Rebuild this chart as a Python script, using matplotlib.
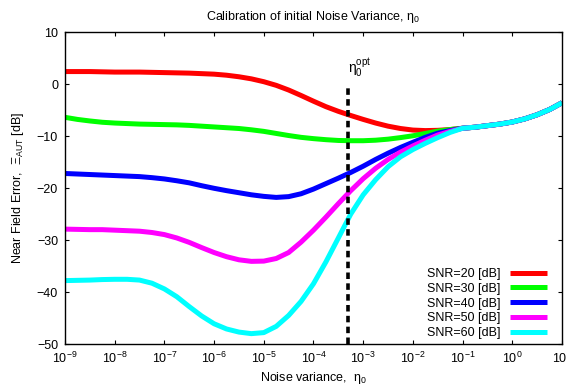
import numpy as np
import matplotlib
matplotlib.use("Agg")
import matplotlib.pyplot as plt

plt.rcParams['font.family'] = ['Liberation Sans', 'DejaVu Sans']
plt.rcParams['mathtext.fontset'] = 'custom'
plt.rcParams['mathtext.rm'] = 'Liberation Sans'
plt.rcParams['mathtext.it'] = 'Liberation Sans'
plt.rcParams['mathtext.default'] = 'regular'

# x positions as log10 of the noise variance
log_eta = [-9, -8.75, -8.5, -8.25, -8, -7.75, -7.5, -7.25, -7, -6.75,
           -6.5, -6.25, -6, -5.75, -5.5, -5.25, -5, -4.75, -4.5, -4.25,
           -4, -3.75, -3.5, -3.25, -3, -2.75, -2.5, -2.25, -2, -1.75,
           -1.5, -1.25, -1, -0.75, -0.5, -0.25, 0, 0.25, 0.5, 0.75, 1]

# common high-variance tail (from 1e-1 to 1e1)
tail = [-8.5, -8.3, -8.0, -7.7, -7.3, -6.7, -5.9, -4.9, -3.6]

snr20 = [2.4, 2.4, 2.4, 2.35, 2.3, 2.3, 2.3, 2.25, 2.2, 2.15,
         2.1, 2.0, 1.9, 1.7, 1.4, 1.0, 0.45, -0.25, -1.15, -2.2,
         -3.3, -4.35, -5.25, -6.05, -6.8, -7.5, -8.1, -8.55, -8.85, -8.95,
         -8.9, -8.75] + tail
snr30 = [-6.4, -6.8, -7.1, -7.35, -7.5, -7.6, -7.7, -7.75, -7.8, -7.85,
         -7.95, -8.1, -8.25, -8.4, -8.55, -8.8, -9.1, -9.5, -9.9, -10.25,
         -10.5, -10.7, -10.85, -10.9, -10.9, -10.8, -10.6, -10.3, -9.95, -9.5,
         -9.05, -8.75] + tail
snr40 = [-17.2, -17.3, -17.4, -17.5, -17.6, -17.7, -17.8, -18.0, -18.25, -18.6,
         -19.0, -19.55, -20.05, -20.5, -20.9, -21.3, -21.6, -21.8, -21.65, -21.1,
         -20.2, -19.15, -18.1, -17.0, -15.8, -14.5, -13.3, -12.2, -11.2, -10.25,
         -9.45, -8.95] + tail
snr50 = [-27.9, -27.95, -28.0, -28.0, -28.1, -28.2, -28.3, -28.55, -28.95, -29.6,
         -30.45, -31.45, -32.4, -33.2, -33.8, -34.1, -34.05, -33.55, -32.4, -30.4,
         -28.1, -25.6, -23.0, -20.5, -18.2, -16.2, -14.5, -13.1, -11.9, -10.8,
         -9.8, -9.1] + tail
snr60 = [-37.8, -37.75, -37.7, -37.6, -37.55, -37.55, -37.7, -38.3, -39.4, -40.9,
         -42.8, -44.6, -46.1, -47.1, -47.7, -48.0, -47.8, -46.6, -44.5, -41.8,
         -38.4, -34.2, -29.6, -25.0, -21.3, -18.4, -15.9, -14.0, -12.6, -11.4,
         -10.3, -9.3] + tail

labels = ['SNR=20 [dB]', 'SNR=30 [dB]', 'SNR=40 [dB]', 'SNR=50 [dB]', 'SNR=60 [dB]']
colors = ['#ff0000', '#00ff00', '#0000ff', '#ff00ff', '#00ffff']
eta_opt = 5e-4

eta = 10.0 ** np.array(log_eta)

fig = plt.figure(figsize=(5.67, 3.87), dpi=100)
ax = fig.add_axes([0.1146, 0.111, 0.8766, 0.8062])

for y, lab, c in zip([snr20, snr30, snr40, snr50, snr60], labels, colors):
    ax.plot(eta, y, color=c, lw=3.6, label=lab, solid_capstyle='butt',
            solid_joinstyle='round')

ax.plot([eta_opt, eta_opt], [-50, 0], color='black', lw=2.6, dashes=(1.8, 1.2))
ax.text(eta_opt * 0.97, 1.0, r'$\eta_0^{opt}$', fontsize=10, ha='left', va='bottom')

ax.set_xscale('log')
ax.set_xlim(1e-9, 1e1)
ax.set_ylim(-50, 10)
ax.set_xticks(10.0 ** np.arange(-9, 2))
ax.minorticks_off()
ax.set_yticks(np.arange(-50, 11, 10))

ax.tick_params(direction='in', length=3, width=0.8, top=True, right=True,
               labelsize=9, pad=5)
for s in ax.spines.values():
    s.set_linewidth(1.0)

ax.set_title(r'Calibration of initial Noise Variance, $\eta_0$', fontsize=9, pad=9)
ax.set_xlabel(r'Noise variance,  $\eta_0$', fontsize=9, labelpad=3)
ax.set_ylabel(r'Near Field Error,  $\Xi_{AUT}$ [dB]', fontsize=9, labelpad=8)

leg = ax.legend(loc='lower right', bbox_to_anchor=(0.98, 0.0), frameon=False,
                markerfirst=False, fontsize=9, handlelength=3.0,
                labelspacing=0.22, borderaxespad=0.0, handletextpad=0.7)

fig.savefig('out.png', dpi=100)
